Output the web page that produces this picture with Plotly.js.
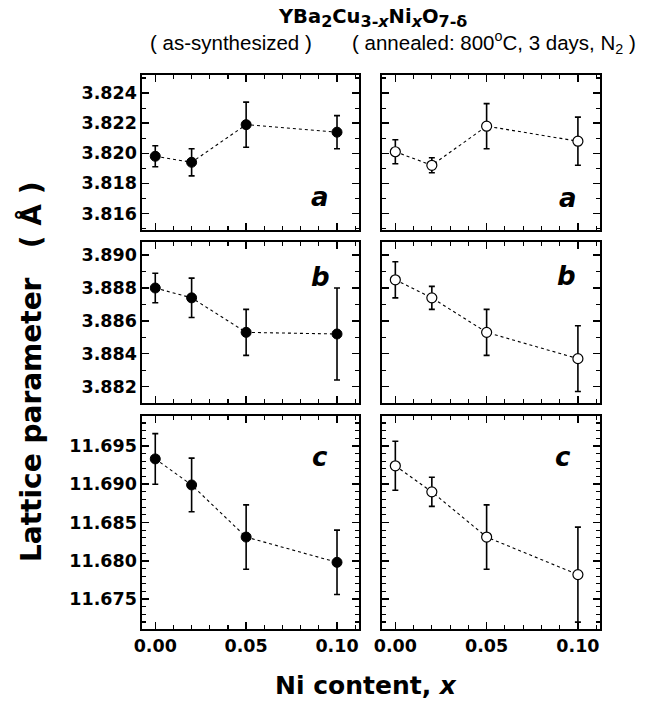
<!DOCTYPE html>
<html>
<head>
<meta charset="utf-8">
<script src="https://cdn.plot.ly/plotly-3.0.1.min.js"></script>
<style>html,body{margin:0;padding:0;background:#fff;}#chart{width:663px;height:702px;}</style>
</head>
<body>
<div id="chart"></div>
<script>
// Ni content x
const niContent = [0, 0.02, 0.05, 0.10];

// as-synthesized (filled circles)
const aSynth = [3.8198, 3.8194, 3.8219, 3.8214];
const aSynthErr = [0.0007, 0.0009, 0.0015, 0.0011];
const bSynth = [3.8880, 3.8874, 3.8853, 3.8852];
const bSynthErr = [0.0009, 0.0012, 0.0014, 0.0028];
const cSynth = [11.6933, 11.6899, 11.6831, 11.6798];
const cSynthErr = [0.0033, 0.0035, 0.0042, 0.0042];

// annealed 800C, 3 days, N2 (open circles)
const aAnneal = [3.8201, 3.8192, 3.8218, 3.8208];
const aAnnealErr = [0.0008, 0.0005, 0.0015, 0.0016];
const bAnneal = [3.8885, 3.8874, 3.8853, 3.8837];
const bAnnealErr = [0.0011, 0.0007, 0.0014, 0.0020];
const cAnneal = [11.6924, 11.6890, 11.6831, 11.6782];
const cAnnealErr = [0.0032, 0.0019, 0.0042, 0.0062];

// axis ticks
const xTickLabels = ['0.00', '0.05', '0.10'];
const aTicks = [3.816, 3.818, 3.820, 3.822, 3.824];
const bTicks = [3.882, 3.884, 3.886, 3.888, 3.890];
const cTicks = [11.675, 11.680, 11.685, 11.690, 11.695];
const panelLetters = ['a', 'b', 'c'];

const W = 663, H = 702;
const px = v => v / W;
const py = v => 1 - v / H;

const colDomains = [[px(142), px(359)], [px(382), px(600)]];
const rowDomains = [[py(230), py(75)], [py(403), py(242)], [py(629), py(416)]];
const yRanges = [[3.8149, 3.8252], [3.8810, 3.8908], [11.6711, 11.6989]];
const yTicks = [aTicks, bTicks, cTicks];
const yMinor = [0.001, 0.001, 0.001];
const xRange = [-0.0073, 0.1121];

const series = [
  [aSynth, aSynthErr], [bSynth, bSynthErr], [cSynth, cSynthErr],
  [aAnneal, aAnnealErr], [bAnneal, bAnnealErr], [cAnneal, cAnnealErr]
];

const tickFont = {family: 'DejaVu Sans', size: 17.5, weight: 'bold', color: '#000'};
const traces = [];
const layout = {
  width: W, height: H,
  margin: {l: 0, r: 0, t: 0, b: 0},
  paper_bgcolor: '#fff', plot_bgcolor: '#fff',
  showlegend: false,
  font: {family: 'DejaVu Sans', color: '#000'},
  annotations: []
};

for (let i = 0; i < 6; i++) {
  const col = i < 3 ? 0 : 1;
  const row = i % 3;
  const k = i + 1;
  const xa = 'xaxis' + (k === 1 ? '' : k);
  const ya = 'yaxis' + (k === 1 ? '' : k);
  const [yv, ev] = series[i];
  traces.push({
    type: 'scatter', mode: 'lines+markers',
    x: niContent, y: yv,
    xaxis: 'x' + (k === 1 ? '' : k), yaxis: 'y' + (k === 1 ? '' : k),
    line: {color: '#000', width: 1.1, dash: 'dot'},
    marker: col === 0
      ? {size: 10, color: '#000', line: {color: '#000', width: 1}}
      : {size: 10, color: '#fff', line: {color: '#000', width: 1.2}},
    error_y: {type: 'data', array: ev, visible: true, color: '#000', thickness: 1.6, width: 3},
    cliponaxis: false
  });
  layout[xa] = {
    domain: colDomains[col], range: xRange, anchor: 'y' + (k === 1 ? '' : k),
    showline: true, linecolor: '#000', linewidth: 1.6, mirror: 'allticks',
    ticks: 'inside', ticklen: 7, tickwidth: 1.4, tickcolor: '#000',
    tickmode: 'array', tickvals: niContent.filter((v, j) => j !== 1), ticktext: xTickLabels,
    minor: {dtick: 0.01, tick0: 0, ticks: 'inside', ticklen: 4, tickwidth: 1.2, tickcolor: '#000'},
    showticklabels: row === 2, tickfont: tickFont,
    showgrid: false, zeroline: false, fixedrange: true
  };
  layout[ya] = {
    domain: rowDomains[row], range: yRanges[row], anchor: 'x' + (k === 1 ? '' : k),
    showline: true, linecolor: '#000', linewidth: 1.6, mirror: 'allticks',
    ticks: 'inside', ticklen: 7, tickwidth: 1.4, tickcolor: '#000',
    tickmode: 'array', tickvals: yTicks[row], ticktext: yTicks[row].map(v => v.toFixed(3)),
    minor: {dtick: yMinor[row], tick0: yTicks[row][0], ticks: 'inside', ticklen: 4, tickwidth: 1.2, tickcolor: '#000'},
    showticklabels: col === 0, tickfont: tickFont,
    showgrid: false, zeroline: false, fixedrange: true
  };
}

// panel letters
const letterPos = [[320, 197], [320, 277], [320, 457], [568, 198], [566, 276], [563, 457]];
for (let i = 0; i < 6; i++) {
  layout.annotations.push({
    xref: 'paper', yref: 'paper', x: px(letterPos[i][0]), y: py(letterPos[i][1]),
    xanchor: 'center', yanchor: 'middle', showarrow: false,
    text: '<i>' + panelLetters[i % 3] + '</i>',
    font: {family: 'DejaVu Sans', size: 26, weight: 'bold', color: '#000'}
  });
}

// titles
const subS = s => '<sub><span style="font-size:16px">' + s + '</span></sub>';
layout.annotations.push({
  xref: 'paper', yref: 'paper', x: px(372), y: py(18), xanchor: 'center', yanchor: 'middle', showarrow: false,
  text: '<b>YBa' + subS('2') + 'Cu' + subS('3-<i>x</i>') + 'Ni' + subS('<i>x</i>') + 'O' + subS('7-δ') + '</b>',
  font: {family: 'DejaVu Sans', size: 19.5, color: '#000'}
});
layout.annotations.push({
  xref: 'paper', yref: 'paper', x: px(231), y: py(42), xanchor: 'center', yanchor: 'middle', showarrow: false,
  text: '( as-synthesized )',
  font: {family: 'Liberation Sans', size: 20.5, color: '#000'}
});
layout.annotations.push({
  xref: 'paper', yref: 'paper', x: px(494), y: py(42), xanchor: 'center', yanchor: 'middle', showarrow: false,
  text: '( annealed: 800<sup>o</sup>C, 3 days, N<sub>2</sub> )',
  font: {family: 'Liberation Sans', size: 20.5, color: '#000'}
});
layout.annotations.push({
  xref: 'paper', yref: 'paper', x: px(366), y: py(685), xanchor: 'center', yanchor: 'middle', showarrow: false,
  text: '<b>Ni content, <i>x</i></b>',
  font: {family: 'DejaVu Sans', size: 25, color: '#000'}
});
layout.annotations.push({
  xref: 'paper', yref: 'paper', x: px(31), y: py(372), xanchor: 'center', yanchor: 'middle', showarrow: false,
  textangle: -90,
  text: '<b>Lattice parameter   ( Å )</b>',
  font: {family: 'DejaVu Sans', size: 28, color: '#000'}
});

Plotly.newPlot('chart', traces, layout, {staticPlot: true, displayModeBar: false});
</script>
</body>
</html>
